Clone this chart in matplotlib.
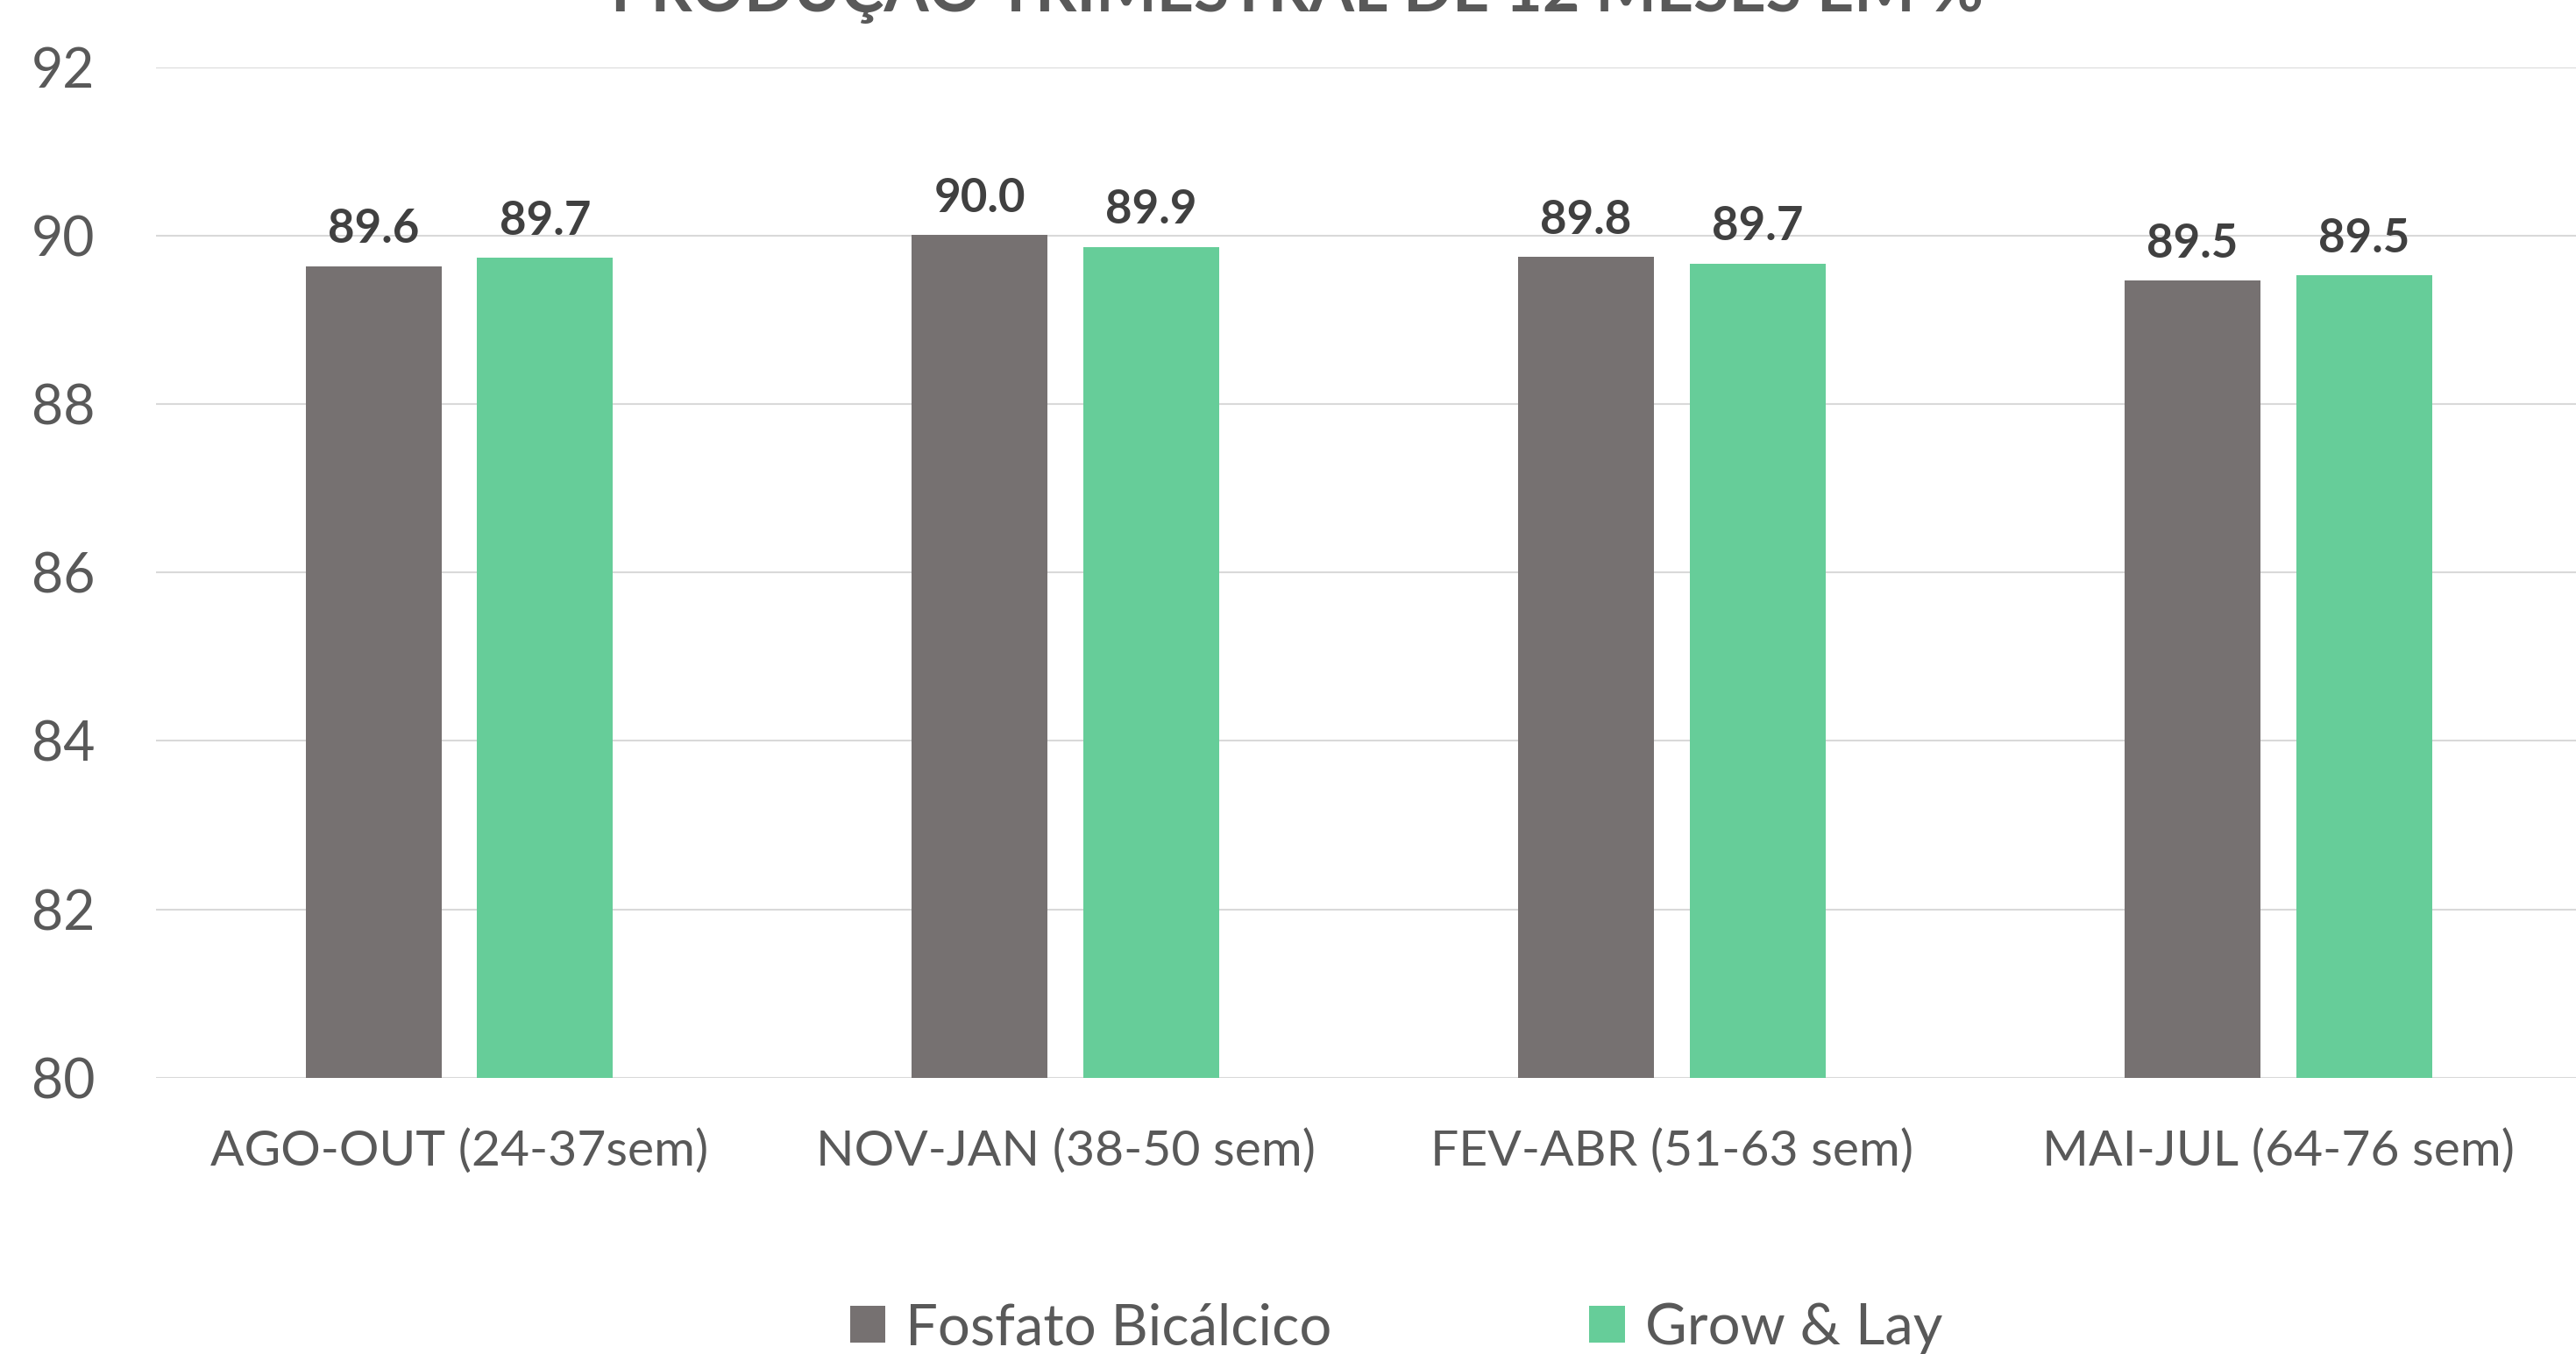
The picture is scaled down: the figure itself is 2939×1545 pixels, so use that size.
import matplotlib
matplotlib.use("Agg")
import matplotlib.pyplot as plt
import numpy as np

plt.rcParams['font.family'] = ['Lato', 'DejaVu Sans']

# data
categories = ['AGO-OUT (24-37sem)', 'NOV-JAN (38-50 sem)', 'FEV-ABR (51-63 sem)', 'MAI-JUL (64-76 sem)']
fosfato = [89.64, 90.01, 89.75, 89.47]
grow_lay = [89.74, 89.87, 89.67, 89.53]
series_names = ['Fosfato Bicálcico', 'Grow & Lay']
title = 'PRODUÇÃO TRIMESTRAL DE 12 MESES EM %'
y_ticks = [80, 82, 84, 86, 88, 90, 92]

GRAY = '#767171'
GREEN = '#66CD99'
TEXT = '#595959'
LABEL = '#404040'

fig = plt.figure(figsize=(29.39, 15.45), dpi=100)
ax = fig.add_axes([0.0606, 0.2041, 0.9415, 0.7461])

x = np.arange(len(categories))
bw = 0.224
off = 0.1416
b1 = ax.bar(x - off, fosfato, bw, color=GRAY, label=series_names[0], zorder=3)
b2 = ax.bar(x + off, grow_lay, bw, color=GREEN, label=series_names[1], zorder=3)

for bars in (b1, b2):
    for rect in bars:
        v = rect.get_height()
        ax.annotate(f'{v:.1f}', (rect.get_x() + rect.get_width() / 2, v),
                    xytext=(0, 19), textcoords='offset points',
                    ha='center', va='baseline', fontsize=38, fontweight='bold',
                    color=LABEL, zorder=4)

ax.set_xlim(-0.5, 3.5)
ax.set_ylim(80, 92)
ax.set_yticks(y_ticks)
ax.set_yticklabels([str(t) for t in y_ticks])
ax.set_xticks(x)
ax.set_xticklabels(categories)
ax.tick_params(axis='y', length=0, pad=50, labelsize=45, labelcolor=TEXT)
ax.tick_params(axis='x', length=0, pad=42, labelsize=41, labelcolor=TEXT)
ax.grid(axis='y', color='#D9D9D9', linewidth=1.5, zorder=0)
for s in ax.spines.values():
    s.set_visible(False)

# title sits partly above the top edge, as in the reference
fig.text(0.5037, 0.9916, title, ha='center', va='baseline', fontsize=53,
         fontweight='bold', color=TEXT)

fig.legend(handles=[b1, b2], labels=series_names, loc='center',
           bbox_to_anchor=(0.542, 0.019), ncol=2, frameon=False,
           fontsize=47, labelcolor=TEXT, handlelength=0.62, handleheight=0.62,
           handletextpad=0.35, columnspacing=4.5)

fig.savefig('out.png', dpi=100)
